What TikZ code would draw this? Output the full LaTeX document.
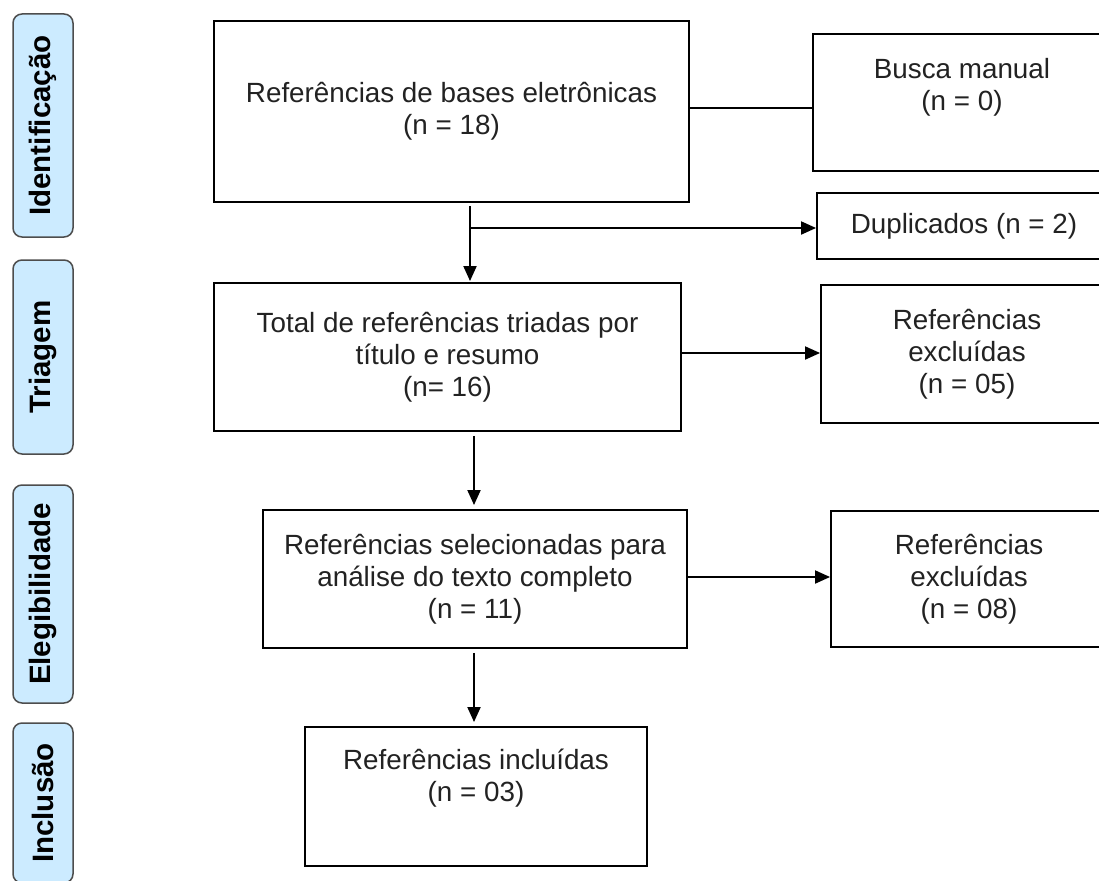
\documentclass[tikz,border=0pt]{standalone}
\usepackage{fontspec}
\setmainfont{Liberation Sans}
\usetikzlibrary{arrows.meta}
\definecolor{lblfill}{HTML}{CCEBFF}
\definecolor{lbldraw}{HTML}{4D4D4D}
\definecolor{txt}{HTML}{222222}
\begin{document}
\begin{tikzpicture}[x=1pt,y=-1pt,
  box/.style={draw=black, line width=1.9pt, inner sep=0pt, align=center, text=txt,
              font=\fontsize{27.8}{32}\selectfont},
  phase/.style={draw=lbldraw, fill=lblfill, line width=1.5pt, rounded corners=9pt,
                rotate=90, inner sep=0pt, minimum height=60pt,
                font=\fontsize{29.5}{34}\selectfont\bfseries, text=black},
  arr/.style={line width=1.9pt, -{Triangle[length=15pt,width=13pt]}},
  link/.style={line width=1.9pt}]
\clip (0,0) rectangle (1099,880);
\fill[white] (0,0) rectangle (1099,880);

% phase labels
\node[phase, minimum width=223pt] (L1) at (43,125.5) {Identificação};
\node[phase, minimum width=194pt] (L2) at (43,357) {Triagem};
\node[phase, minimum width=218pt] (L3) at (43,594) {Elegibilidade};
\node[phase, minimum width=160pt] (L4) at (43,803) {Inclusão};

% boxes
\node[box, minimum width=475pt, minimum height=181pt] (b1) at (451.5,111.5)
  {Referências de bases eletrônicas\\(n = 18)};
\node[box, minimum width=298pt, minimum height=137pt] (busca) at (962,102.5)
  {Busca manual\\(n = 0)\\[-6pt] \strut};
\node[box, minimum width=294pt, minimum height=66pt] (dup) at (964,226)
  {Duplicados (n = 2)};
\node[box, minimum width=467pt, minimum height=148pt] (b2) at (447.5,357)
  {Total de referências triadas por\\título e resumo\\(n= 16)};
\node[box, minimum width=292pt, minimum height=138pt] (ex1) at (967,354)
  {Referências\\excluídas\\(n = 05)};
\node[box, minimum width=424pt, minimum height=138pt] (b3) at (475,579)
  {Referências selecionadas para\\análise do texto completo\\(n = 11)};
\node[box, minimum width=276pt, minimum height=136pt] (ex2) at (969,579)
  {Referências\\excluídas\\(n = 08)};
\node[box, minimum width=342pt, minimum height=139pt] (b4) at (476,796.5)
  {Referências incluídas\\(n = 03)\\ \strut};

% connectors
\draw[link] (b1.east |- 0,108) -- (busca.west |- 0,108);
\draw[arr, shorten <=3pt, shorten >=1pt] (b1.south -| 470,0) -- (b2.north -| 470,0);
\coordinate (d1) at (470,228);
\draw[arr] (d1) -- (dup.west |- d1);
\draw[arr] (b2.east |- 0,353) -- (ex1.west |- 0,353);
\draw[arr, shorten <=4pt, shorten >=4pt] (b2.south -| 474,0) -- (b3.north -| 474,0);
\draw[arr] (b3.east |- 0,577) -- (ex2.west |- 0,577);
\draw[arr, shorten <=4pt, shorten >=4pt] (b3.south -| 474,0) -- (b4.north -| 474,0);
\end{tikzpicture}
\end{document}
